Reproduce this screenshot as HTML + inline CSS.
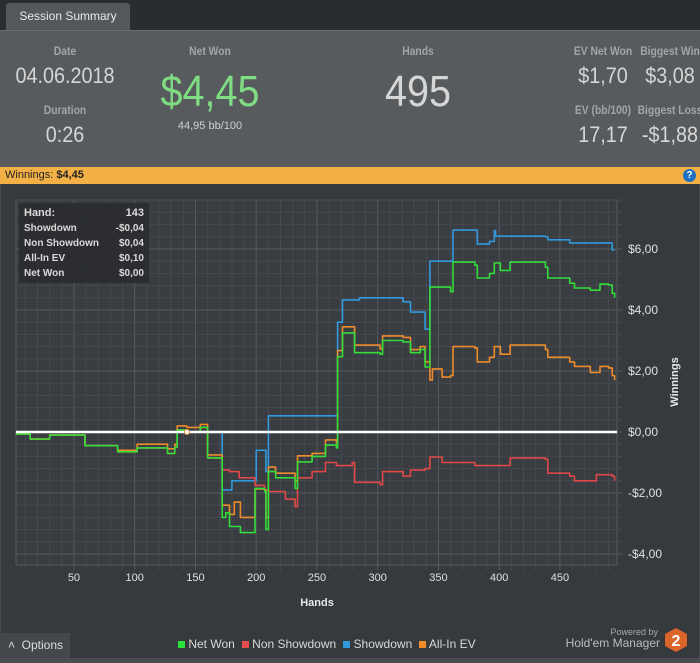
<!DOCTYPE html>
<html><head><meta charset="utf-8">
<style>
*{margin:0;padding:0;box-sizing:border-box}
body{width:700px;height:663px;background:#2a2d30;font-family:"Liberation Sans",sans-serif;position:relative;overflow:hidden}
.abs{position:absolute}
.lbl{color:#a3a5a7;font-size:12px;font-weight:bold;text-align:center;transform:scaleX(.86);white-space:nowrap}
.val{color:#d6d6d6;text-align:center;transform:scaleX(.9);white-space:nowrap}
</style></head><body>
<div class="abs" style="left:6px;top:3px;width:124px;height:27px;background:#55585b;border-radius:3px 3px 0 0;color:#e8e8e8;font-size:12px;line-height:26px;text-align:center">Session Summary</div>
<div class="abs" style="left:0;top:30px;width:700px;height:137px;background:#585b5e;border-top:1px solid #6a6d70">
  <div class="abs lbl" style="left:15px;top:13px;width:100px">Date</div>
  <div class="abs val" style="left:0;top:32px;width:130px;font-size:22px">04.06.2018</div>
  <div class="abs lbl" style="left:15px;top:72px;width:100px">Duration</div>
  <div class="abs val" style="left:15px;top:91px;width:100px;font-size:22px">0:26</div>
  <div class="abs lbl" style="left:160px;top:13px;width:100px">Net Won</div>
  <div class="abs val" style="left:130px;top:36px;width:160px;font-size:44px;color:#7fdc82">$4,45</div>
  <div class="abs" style="left:150px;top:89px;width:120px;font-size:11px;color:#cfcfcf;text-align:center">44,95 bb/100</div>
  <div class="abs lbl" style="left:368px;top:13px;width:100px">Hands</div>
  <div class="abs val" style="left:348px;top:36px;width:140px;font-size:44px">495</div>
  <div class="abs lbl" style="left:558px;top:13px;width:90px">EV Net Won</div>
  <div class="abs val" style="left:558px;top:32px;width:90px;font-size:22px">$1,70</div>
  <div class="abs lbl" style="left:627px;top:13px;width:86px">Biggest Win</div>
  <div class="abs val" style="left:627px;top:32px;width:86px;font-size:22px">$3,08</div>
  <div class="abs lbl" style="left:558px;top:72px;width:90px">EV (bb/100)</div>
  <div class="abs val" style="left:558px;top:91px;width:90px;font-size:22px">17,17</div>
  <div class="abs lbl" style="left:627px;top:72px;width:86px">Biggest Loss</div>
  <div class="abs val" style="left:627px;top:91px;width:86px;font-size:22px">-$1,88</div>
</div>
<div class="abs" style="left:0;top:167px;width:700px;height:17px;background:#f3b046;font-size:11px;line-height:17px;padding-left:5px;color:#222">Winnings: <b>$4,45</b>
  <div class="abs" style="right:4px;top:2px;width:13px;height:13px;border-radius:50%;background:#1f6fc0;color:#fff;font-size:10px;line-height:13px;text-align:center;font-weight:bold">?</div>
</div>
<div class="abs" style="left:0;top:184px;width:700px;height:474px;background:#363a3d;border-left:1px solid #4a4d50;border-right:1px solid #4a4d50"></div>
<svg class="abs" style="left:0;top:0" width="700" height="663" id="chart">
  <rect x="16" y="200" width="601" height="365" fill="#393d41" stroke="#55595d"/>
  <g id="grid"></g><g id="series"></g><g id="axes"></g>
</svg>
<div class="abs" style="left:19px;top:203px;width:130px;height:80px;background:#2a2c2f;opacity:.92;color:#e6e6e6;font-size:10px;font-weight:bold;padding:3px 5px;line-height:15px">
  <div style="display:flex;justify-content:space-between;font-size:11px"><span>Hand:</span><span>143</span></div>
  <div style="display:flex;justify-content:space-between"><span>Showdown</span><span>-$0,04</span></div>
  <div style="display:flex;justify-content:space-between"><span>Non Showdown</span><span>$0,04</span></div>
  <div style="display:flex;justify-content:space-between"><span>All-In EV</span><span>$0,10</span></div>
  <div style="display:flex;justify-content:space-between"><span>Net Won</span><span>$0,00</span></div>
</div>
<div class="abs" style="left:0;top:633px;width:70px;height:25px;background:#45484b;color:#ddd;font-size:12px;line-height:25px;padding-left:8px">˄&nbsp;&nbsp;Options</div>
<div class="abs" style="left:178px;top:637px;font-size:12px;color:#d8d8d8;display:flex;gap:7px;white-space:nowrap">
  <span><span style="display:inline-block;width:7px;height:7px;background:#2ee03a"></span> Net Won</span>
  <span><span style="display:inline-block;width:7px;height:7px;background:#e84b4b"></span> Non Showdown</span>
  <span><span style="display:inline-block;width:7px;height:7px;background:#3399dd"></span> Showdown</span>
  <span><span style="display:inline-block;width:7px;height:7px;background:#f08c2a"></span> All-In EV</span>
</div>
<div class="abs" style="left:560px;top:627px;width:98px;text-align:right;font-size:9px;color:#a8a8a8">Powered by</div>
<div class="abs" style="left:550px;top:636px;width:110px;text-align:right;font-size:12px;color:#bcbcbc">Hold'em Manager</div>
<svg class="abs" style="left:664px;top:627px" width="24" height="26"><polygon points="12,1 23,7 23,19 12,25 1,19 1,7" fill="#d9652a"/><text x="12" y="19" font-size="16" font-weight="bold" fill="#fff" text-anchor="middle" font-family="Liberation Sans">2</text></svg>
<div class="abs" style="left:0;top:658px;width:700px;height:5px;background:#4a4d50"></div>
<script>
const xTicks=[50,100,150,200,250,300,350,400,450];
const yTicks=[6,4,2,0,-2,-4];
const yTickLabels=["$6,00","$4,00","$2,00","$0,00","-$2,00","-$4,00"];
const netWonHands=[2,14,30,59,86,102,127,133,135,143,154,160,170,172,175,178,187,197,199,207,208,210,216,232,234,246,257,266,267,271,279,281,302,304,321,327,335,339,343,343,360,362,380,382,392,396,401,409,438,440,458,462,475,483,490,493,495];
const netWonValues=[-0.07,-0.23,-0.1,-0.45,-0.65,-0.52,-0.7,-0.5,0.07,0,0.15,-0.85,-0.85,-2.8,-2.65,-3.1,-3.3,-3.3,-1.85,-1.95,-3.2,-1.3,-1.5,-1.85,-0.98,-0.8,-0.43,-0.52,2.47,3.25,3.25,2.6,2.55,3.0,2.95,2.6,2.7,2.13,2.35,4.75,4.6,5.57,5.47,5.05,5.2,5.54,5.3,5.57,5.4,5.05,4.88,4.72,4.65,4.85,4.82,4.55,4.4];
const allInHands=[2,14,30,59,86,102,127,133,135,143,154,160,170,172,178,182,187,197,199,207,208,210,216,232,234,246,257,266,267,271,279,281,302,304,321,327,335,339,343,343,345,353,360,362,380,382,392,396,401,409,438,440,458,462,475,483,490,493,495];
const allInValues=[-0.07,-0.23,-0.1,-0.45,-0.6,-0.4,-0.55,-0.4,0.2,0.15,0.25,-0.75,-0.75,-2.4,-2.7,-2.3,-2.8,-2.8,-1.87,-1.9,-2.8,-1.15,-1.35,-1.6,-0.78,-0.7,-0.26,-0.36,2.67,3.45,3.45,2.85,2.72,3.15,3.1,2.7,2.8,2.3,2.35,1.7,2.07,1.8,1.85,2.8,2.75,2.3,2.45,2.8,2.55,2.85,2.7,2.45,2.3,2.15,1.95,2.15,2.1,1.85,1.7];
const nonSdHands=[2,14,30,59,86,102,127,133,135,143,154,160,170,172,178,186,199,207,210,224,232,234,246,257,266,267,279,281,302,304,321,327,339,343,353,380,409,438,440,458,462,475,480,493,495];
const nonSdValues=[-0.07,-0.23,-0.1,-0.45,-0.65,-0.52,-0.7,-0.5,0.07,0,0.15,-0.85,-0.85,-1.25,-1.3,-1.5,-1.75,-1.9,-1.95,-2.2,-2.45,-1.5,-1.3,-1.0,-1.1,-1.1,-1.0,-1.65,-1.73,-1.3,-1.45,-1.25,-1.2,-0.82,-1.0,-1.1,-0.85,-0.9,-1.35,-1.45,-1.6,-1.6,-1.4,-1.45,-1.6];
const sdHands=[2,170,172,178,180,199,200,208,208,210,266,267,271,285,321,327,339,343,343,360,362,380,382,392,396,397,438,440,458,490,493,495];
const sdValues=[0,0,-1.9,-1.9,-1.6,-1.6,-0.6,-0.6,-1.3,0.53,0.53,3.6,4.33,4.4,4.27,3.93,3.37,3.37,5.6,5.6,6.62,6.62,6.16,6.25,6.6,6.42,6.4,6.3,6.2,6.2,5.97,5.97];
const markerHand=143;

const X0=16,X1=617,Y0=200,Y1=565;
const xs=h=>13.2+1.215*h;
const ys=v=>432-30.5*v;
const NS='http://www.w3.org/2000/svg';
function mk(tag,attrs,parent){const e=document.createElementNS(NS,tag);for(const k in attrs)e.setAttribute(k,attrs[k]);parent.appendChild(e);return e;}
const grid=document.getElementById('grid'),ser=document.getElementById('series'),ax=document.getElementById('axes');
for(let h=10;h<495;h+=10){const x=xs(h);if(x<=X0||x>=X1)continue;
 const l=mk('line',{x1:x,x2:x,y1:Y0,y2:Y1+5,stroke:h%50===0?'#565a5e':'#464a4e','stroke-width':1},grid);
 }
for(let v=-4.4;v<7.7;v+=0.4){const y=ys(v);if(y<=Y0||y>=Y1)continue;
 const major=Math.abs(Math.round(v/2)*2-v)<0.01;
 const l=mk('line',{x1:X0,x2:X1+5,y1:y,y2:y,stroke:major?'#565a5e':'#464a4e','stroke-width':1},grid);
 }
function series(hs,vs,color,name){
 let d='M'+xs(hs[0]).toFixed(1)+','+ys(vs[0]).toFixed(1);
 for(let i=1;i<hs.length;i++)d+='H'+xs(hs[i]).toFixed(1)+'V'+ys(vs[i]).toFixed(1);
 const p=mk('path',{d:d,fill:'none',stroke:color,'stroke-width':1.6,'stroke-linejoin':'round'},ser);
 }
series(sdHands,sdValues,'#3399dd','showdown-line');
series(nonSdHands,nonSdValues,'#e04848','non-showdown-line');
series(allInHands,allInValues,'#ee8c2c','all-in-ev-line');
series(netWonHands,netWonValues,'#33dd3a','net-won-line');
const z=mk('line',{x1:X0,x2:X1,y1:ys(0),y2:ys(0),stroke:'#fff','stroke-width':2.5},ser);

const m=mk('circle',{cx:xs(markerHand),cy:ys(0),r:2.5,fill:'#fff',stroke:'#ee8c2c','stroke-width':1},ser);

xTicks.forEach(t=>{const tx=mk('text',{x:xs(t),y:581,fill:'#e0e0e0','font-size':11,'text-anchor':'middle','font-family':'Liberation Sans'},ax);tx.textContent=t;
 });
yTicks.forEach((t,i)=>{const tx=mk('text',{x:628,y:ys(t)+4,fill:'#e0e0e0','font-size':12,'font-family':'Liberation Sans'},ax);tx.textContent=yTickLabels[i];
 });
const xt=mk('text',{x:317,y:606,fill:'#e8e8e8','font-size':11,'font-weight':'bold','text-anchor':'middle','font-family':'Liberation Sans'},ax);xt.textContent='Hands';

const yt=mk('text',{x:0,y:0,fill:'#e8e8e8','font-size':11,'font-weight':'bold','text-anchor':'middle','font-family':'Liberation Sans',transform:'translate(678,382) rotate(-90)'},ax);yt.textContent='Winnings';

</script>
</body></html>
